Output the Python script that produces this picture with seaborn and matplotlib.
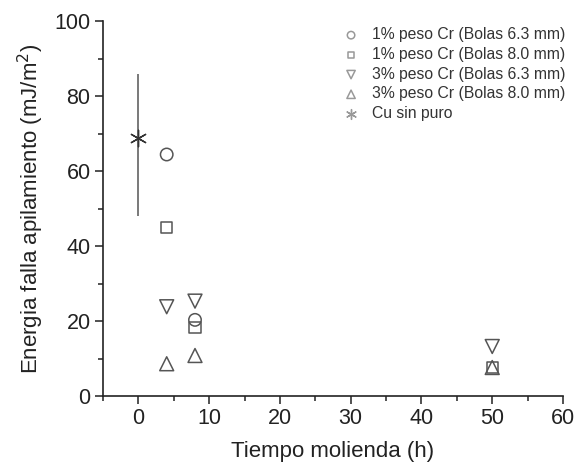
import matplotlib
matplotlib.use("Agg")
import matplotlib.pyplot as plt
import seaborn as sns
import pandas as pd
import numpy as np
from matplotlib.ticker import MultipleLocator

# Data
series = ["1% peso Cr (Bolas 6.3 mm)", "1% peso Cr (Bolas 8.0 mm)",
          "3% peso Cr (Bolas 6.3 mm)", "3% peso Cr (Bolas 8.0 mm)"]
times = [4, 8, 50]
cr1_63 = [64.4, 20.3, np.nan]
cr1_80 = [45.0, 18.2, 7.6]
cr3_63 = [23.8, 25.3, 13.2]
cr3_80 = [8.6, 10.8, 7.6]
cu_time = [0]
cu_value = [68.8]
cu_err_low = [20.8]
cu_err_high = [17.0]
cu_label = "Cu sin puro"

rows = []
for name, vals in zip(series, [cr1_63, cr1_80, cr3_63, cr3_80]):
    for t, v in zip(times, vals):
        rows.append({"t": t, "E": v, "serie": name})
df = pd.DataFrame(rows).dropna()

sns.set_style("ticks")
plt.rcParams['font.family'] = ['Liberation Sans', 'DejaVu Sans']

fig = plt.figure(figsize=(5.77, 4.68), dpi=100)
ax = fig.add_axes([103/577, 72/468, 460/577, 375/468])

gray = "#555555"
markers = {series[0]: "o", series[1]: "s", series[2]: "v", series[3]: "^"}
sizes_map = {series[0]: 80, series[1]: 65, series[2]: 100, series[3]: 100}
for name in series:
    sub = df[df["serie"] == name]
    sns.scatterplot(data=sub, x="t", y="E", marker=markers[name], s=sizes_map[name],
                    facecolors="none", edgecolor=gray, linewidth=1.1, ax=ax, label=name,
                    zorder=3)

ax.errorbar(cu_time, cu_value, yerr=[cu_err_low, cu_err_high], fmt="none",
            ecolor=gray, elinewidth=1.1, capsize=0, zorder=2)
sns.scatterplot(x=cu_time, y=cu_value, marker=(6, 2, 0), s=140, color="#333333",
                linewidth=1.0, ax=ax, label=cu_label, zorder=4)

ax.set_xlim(-5, 60)
ax.set_ylim(0, 100)
ax.xaxis.set_major_locator(MultipleLocator(10))
ax.xaxis.set_minor_locator(MultipleLocator(5))
ax.yaxis.set_major_locator(MultipleLocator(20))
ax.yaxis.set_minor_locator(MultipleLocator(10))
ax.tick_params(which="major", direction="out", length=6, width=1.1, labelsize=15.5,
               colors="#222222", pad=3)
ax.tick_params(which="minor", direction="out", length=3.5, width=1.1, colors="#222222")
for s in ["top", "right"]:
    ax.spines[s].set_visible(False)
for s in ["left", "bottom"]:
    ax.spines[s].set_linewidth(1.2)
    ax.spines[s].set_color("#222222")

ax.set_xlabel("Tiempo molienda (h)", fontsize=16, labelpad=8, color="#222222")
ax.set_ylabel("Energia falla apilamiento (mJ/m$^2$)", fontsize=16, labelpad=6, color="#222222")

leg = ax.legend(loc="upper left", bbox_to_anchor=(0.50, 1.0), frameon=False, fontsize=11.3,
                handletextpad=0.6, labelspacing=0.3, markerscale=0.6, labelcolor="#333333",
                borderaxespad=0, handlelength=1.5)
for h in leg.legend_handles:
    try:
        h.set_edgecolor("#999999")
    except Exception:
        pass

fig.savefig("out.png", dpi=100)
